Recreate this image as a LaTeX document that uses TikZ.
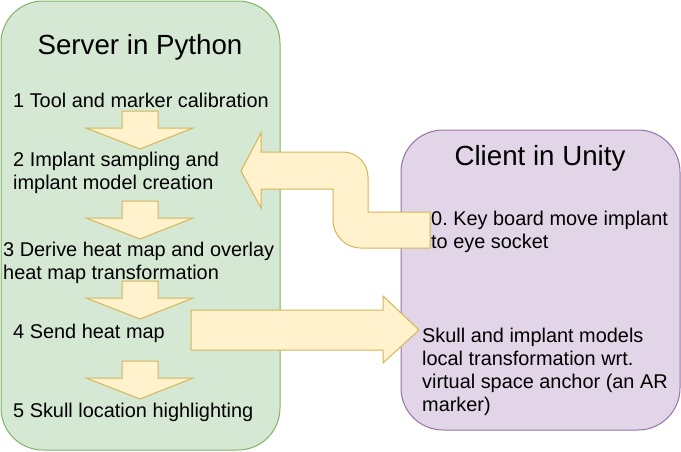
\documentclass[tikz,border=0pt]{standalone}
\usepackage{fontspec}
\setmainfont{Liberation Sans}
\frenchspacing
\definecolor{srvfill}{HTML}{D5E8D4}
\definecolor{srvline}{HTML}{82B366}
\definecolor{clifill}{HTML}{E1D5E7}
\definecolor{cliline}{HTML}{9673A6}
\definecolor{arrfill}{HTML}{FFF2CC}
\definecolor{arrline}{HTML}{D6B656}
\begin{document}
\begin{tikzpicture}[x=1pt,y=-1pt,
  txt/.style={anchor=base west, inner sep=0pt, font=\fontsize{19.9}{23}\selectfont, align=left},
  ttl/.style={anchor=base, inner sep=0pt, font=\fontsize{27.7}{32}\selectfont},
  arr/.style={fill=arrfill, draw=arrline, line width=1pt, line join=miter},
  panel/.style={line width=1pt, rounded corners=42pt}]
\useasboundingbox (0,0) rectangle (681,451);
% panels
\draw[panel, fill=srvfill, draw=srvline] (1,1) rectangle (280,450);
\draw[panel, fill=clifill, draw=cliline] (401,130) rectangle (680,430);
% down arrows
\foreach \t in {111,201,281,361}
  \draw[arr] (122,\t) -- (158,\t) -- (158,\t+17) -- (193,\t+17) -- (140,\t+38)
     -- (86,\t+17) -- (122,\t+17) -- cycle;
% bent arrow (client -> server)
\draw[arr] (241,171) -- (261,133) -- (261,152) -- (343,152)
   arc[start angle=270, end angle=360, radius=25] -- (368,212) -- (430,212)
   -- (430,248) -- (361,248) arc[start angle=90, end angle=180, radius=28]
   -- (333,189) -- (261,189) -- (261,208) -- cycle;
% right arrow (server -> client)
\draw[arr] (191,310) -- (383,310) -- (383,296) -- (419,330) -- (383,363)
   -- (383,350) -- (191,350) -- cycle;
% texts (base anchor = baseline of last line)
\node[ttl] (srv) at (140,54) {Server in Python};
\node[txt] (s1) at (13,107) {1 Tool and marker calibration};
\node[txt] (s2) at (13,189) {2 Implant sampling and\\implant model creation};
\node[txt] (s3) at (3,279) {3 Derive heat map and overlay\\heat map transformation};
\node[txt] (s4) at (13,338) {4 Send heat map};
\node[txt] (s5) at (13,417) {5 Skull location highlighting};
\node[ttl] (cli) at (540,165) {Client in Unity};
\node[txt] (c0) at (431,248) {0. Key board move implant\\to eye socket};
\node[txt] (c1) at (422,411) {Skull and implant models\\local transformation wrt.\\virtual space anchor (an AR\\marker)};
\end{tikzpicture}
\end{document}
